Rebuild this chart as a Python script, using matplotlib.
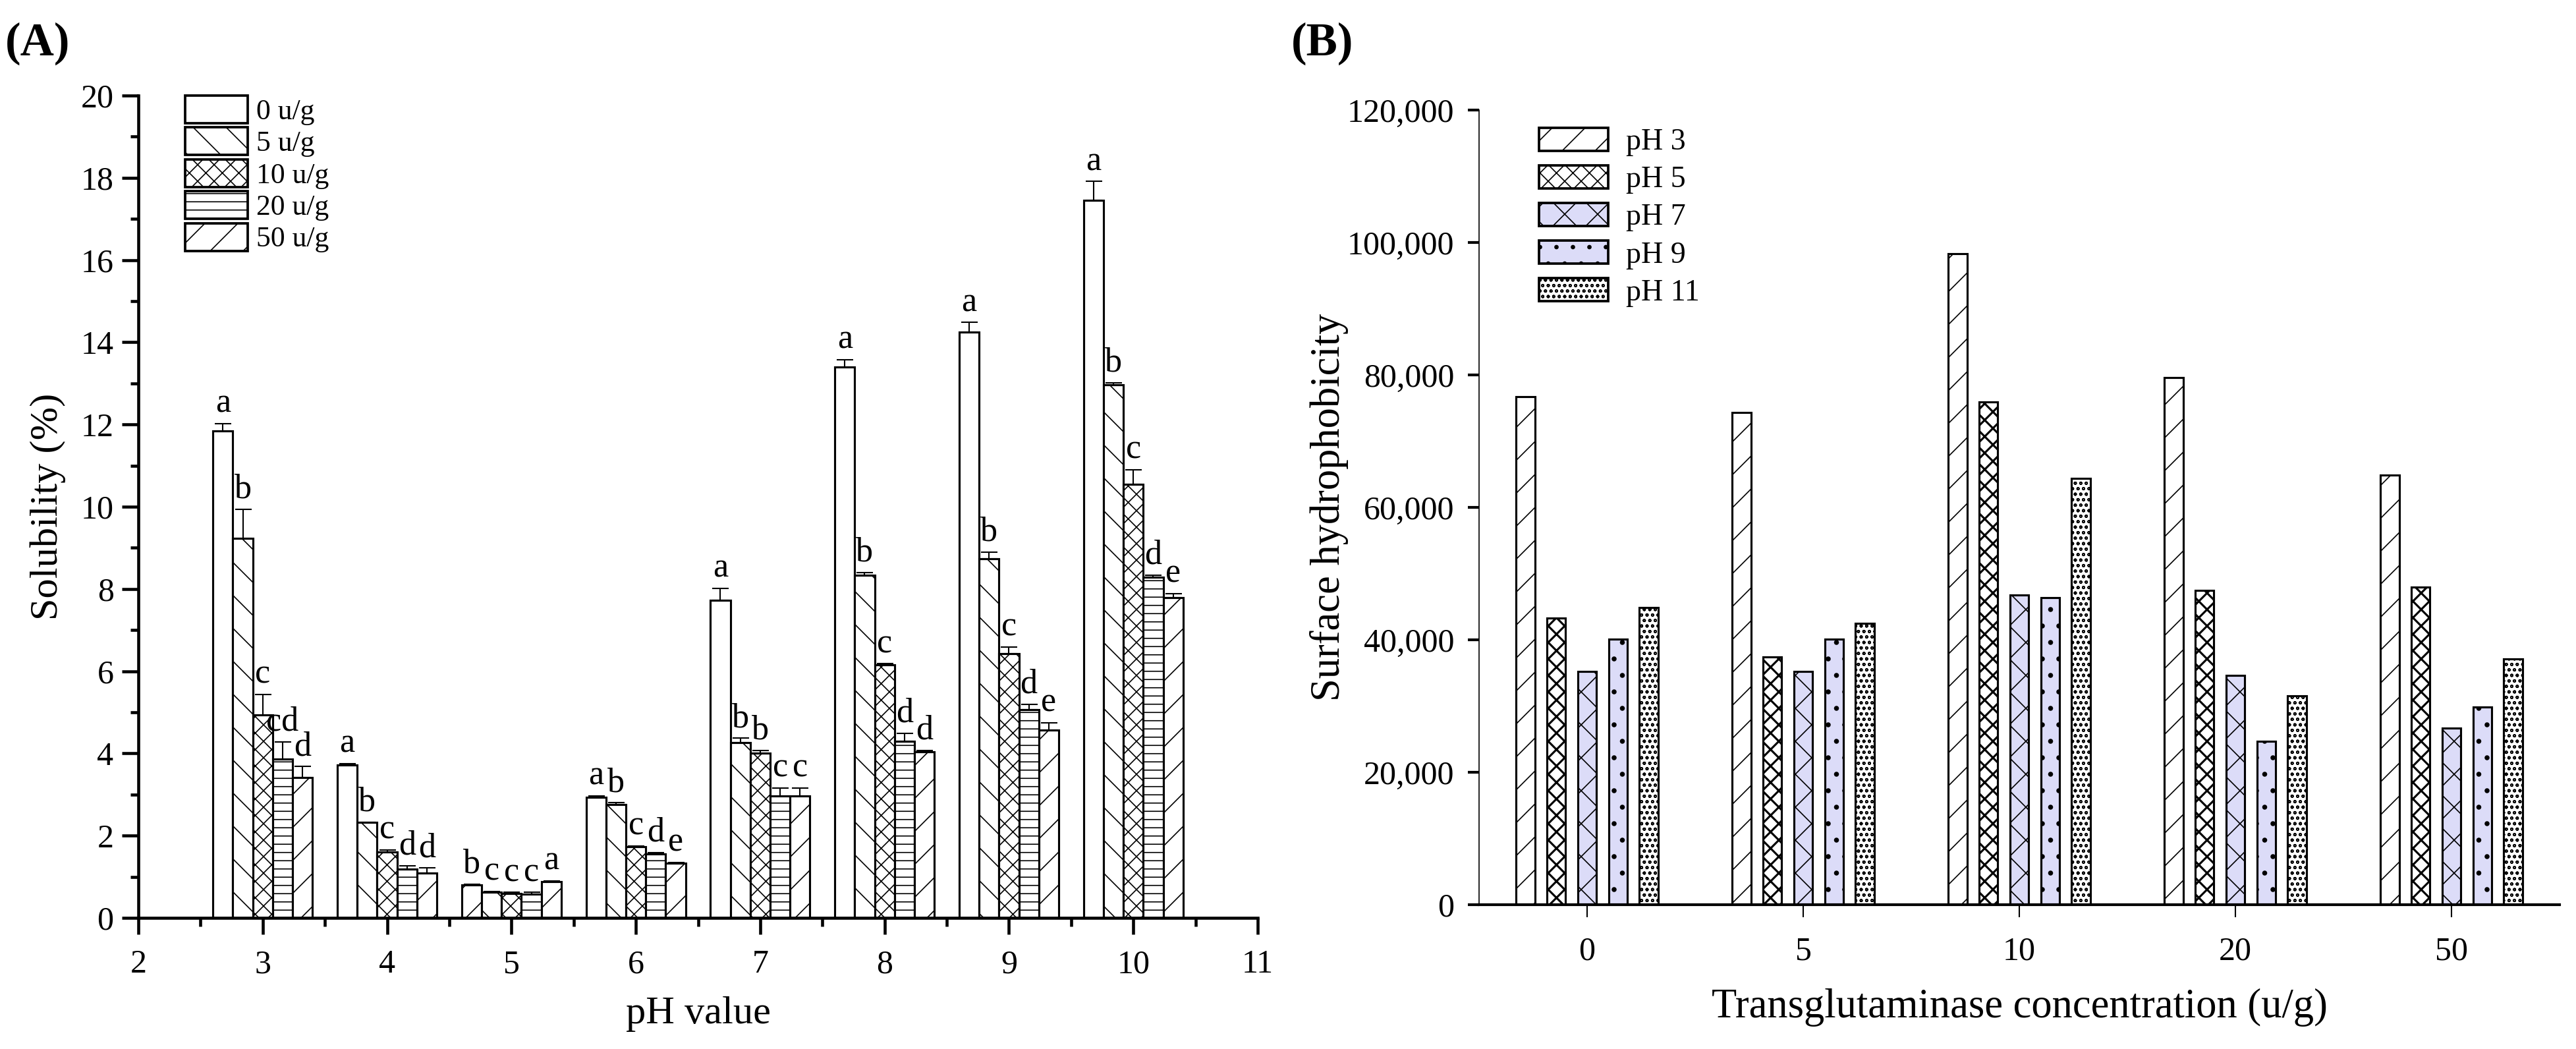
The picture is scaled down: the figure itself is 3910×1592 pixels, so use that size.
import numpy as np
import matplotlib
matplotlib.use("Agg")
import matplotlib.pyplot as plt
import matplotlib.patches as mpatches
from matplotlib.ticker import MultipleLocator, FuncFormatter

plt.rcParams["font.family"] = ["Liberation Serif", "DejaVu Serif"]
plt.rcParams["hatch.linewidth"] = 0.8

# ---- panel A: solubility vs pH ----
ph_values = [3, 4, 5, 6, 7, 8, 9, 10]
conc_labels = ["0 u/g", "5 u/g", "10 u/g", "20 u/g", "50 u/g"]

sol_0 = [11.84, 3.72, 0.80, 2.94, 7.72, 13.40, 14.24, 17.45]
sol_5 = [9.23, 2.33, 0.62, 2.76, 4.27, 8.34, 8.73, 12.97]
sol_10 = [4.93, 1.61, 0.60, 1.73, 4.00, 6.15, 6.42, 10.55]
sol_20 = [3.87, 1.19, 0.58, 1.56, 2.97, 4.30, 5.07, 8.28]
sol_50 = [3.42, 1.09, 0.88, 1.33, 2.97, 4.04, 4.56, 7.79]

err_0 = [0.18, 0.03, 0.02, 0.03, 0.29, 0.18, 0.24, 0.46]
err_5 = [0.71, 0.00, 0.02, 0.04, 0.10, 0.06, 0.17, 0.05]
err_10 = [0.50, 0.04, 0.02, 0.02, 0.07, 0.03, 0.17, 0.35]
err_20 = [0.41, 0.08, 0.04, 0.03, 0.19, 0.19, 0.13, 0.06]
err_50 = [0.26, 0.12, 0.02, 0.02, 0.19, 0.03, 0.19, 0.10]

letters_0 = ["a", "a", "b", "a", "a", "a", "a", "a"]
letters_5 = ["b", "b", "c", "b", "b", "b", "b", "b"]
letters_10 = ["c", "c", "c", "c", "b", "c", "c", "c"]
letters_20 = ["cd", "d", "c", "d", "c", "d", "d", "d"]
letters_50 = ["d", "d", "a", "e", "c", "d", "e", "e"]

# ---- panel B: surface hydrophobicity ----
tg_conc = ["0", "5", "10", "20", "50"]
ph_labels = ["pH 3", "pH 5", "pH 7", "pH 9", "pH 11"]
hyd_ph3 = [76680, 74310, 98340, 79600, 64900]
hyd_ph5 = [43240, 37390, 75970, 47510, 47980]
hyd_ph7 = [35180, 35180, 46720, 34620, 26640]
hyd_ph9 = [40080, 40080, 46400, 24660, 29880]
hyd_ph11 = [44900, 42450, 64350, 31540, 37070]

A_HATCH = [None, "\\", "xx", "--", "/"]
B_HATCH = ["/", "xx", "x", ".", "ooo"]
B_FILL = ["white", "white", "#DCDCF8", "#DCDCF8", "white"]
B_HLW = [0.8, 1.5, 0.8, 1.2, 0.8]

fig = plt.figure(figsize=(3910 / 150, 1592 / 150), dpi=150)
axA = fig.add_axes([210 / 3910, 1 - 1393 / 1592, 1699 / 3910, 1248 / 1592])
axB = fig.add_axes([2245 / 3910, 1 - 1373 / 1592, 1640 / 3910, 1206 / 1592])

# panel A bars
sols = [sol_0, sol_5, sol_10, sol_20, sol_50]
errs = [err_0, err_5, err_10, err_20, err_50]
letters = [letters_0, letters_5, letters_10, letters_20, letters_50]
x = np.array(ph_values, dtype=float)
w = 0.16
for i in range(5):
    xs = x + (i - 2) * w
    bars = axA.bar(xs, sols[i], width=w, color="white", edgecolor="black",
                   linewidth=1.5, hatch=A_HATCH[i], zorder=2,
                   yerr=[np.zeros(len(errs[i])), errs[i]],
                   error_kw=dict(elinewidth=1.0, capthick=1.0, capsize=6,
                                 ecolor="black", zorder=3))
    for j, b in enumerate(bars):
        if ph_values[j] == 5 and i == 0:
            # original figure shows this control bar hatched
            b.set_hatch("/")
        axA.text(xs[j], sols[i][j] + errs[i][j] + 0.1, letters[i][j],
                 ha="center", va="bottom", fontsize=25)

axA.set_xlim(2, 11)
axA.set_ylim(0, 20)
axA.xaxis.set_major_locator(MultipleLocator(1))
axA.xaxis.set_minor_locator(MultipleLocator(0.5))
axA.yaxis.set_major_locator(MultipleLocator(2))
axA.yaxis.set_minor_locator(MultipleLocator(1))
axA.spines[["top", "right"]].set_visible(False)
for s in ["left", "bottom"]:
    axA.spines[s].set_linewidth(2.2)
axA.tick_params(which="major", direction="out", length=12, width=2.2,
                labelsize=24, pad=6)
axA.tick_params(axis="x", which="major", pad=11)
axA.tick_params(which="minor", direction="out", length=6, width=2.2)
axA.set_ylabel("Solubility (%)", fontsize=29, va="center", ha="center",
               rotation_mode="default")
axA.yaxis.set_label_coords(-0.081, 0.5)
axA.set_xlabel("pH value", fontsize=29, va="center")
axA.xaxis.set_label_coords(0.5, -0.117)

handlesA = [mpatches.Patch(facecolor="white", edgecolor="black", linewidth=1.8,
                           hatch=A_HATCH[i], label=conc_labels[i]) for i in range(5)]
axA.legend(handles=handlesA, loc="upper left", bbox_to_anchor=(0.042, 1.0),
           frameon=False, fontsize=21, handlelength=2.17, handleheight=1.1,
           labelspacing=0.08, handletextpad=0.3, borderpad=0, borderaxespad=0)

# panel B bars
hyd = [hyd_ph3, hyd_ph5, hyd_ph7, hyd_ph9, hyd_ph11]
xb = np.arange(len(tg_conc))
wb = 0.086
step = 0.1426
for i in range(5):
    bars = axB.bar(xb + (i - 2) * step, hyd[i], width=wb, color=B_FILL[i],
                   edgecolor="black", linewidth=1.5, hatch=B_HATCH[i], zorder=2)
    for b in bars:
        if hasattr(b, "set_hatch_linewidth"):
            b.set_hatch_linewidth(B_HLW[i])

axB.set_xlim(-0.5, 4.5)
axB.set_ylim(0, 120000)
axB.set_xticks(xb)
axB.set_xticklabels(tg_conc)
axB.yaxis.set_major_locator(MultipleLocator(20000))
axB.yaxis.set_major_formatter(FuncFormatter(lambda v, p: f"{v:,.0f}"))
axB.spines[["top", "right"]].set_visible(False)
axB.spines["left"].set_linewidth(0.8)
axB.spines["bottom"].set_linewidth(2.0)
axB.tick_params(axis="y", direction="out", length=8, width=2.0, labelsize=24, pad=10)
axB.tick_params(axis="x", direction="out", length=9, width=1.0, labelsize=24, pad=14)
axB.set_ylabel("Surface hydrophobicity", fontsize=30, va="center", ha="center",
               rotation_mode="default")
axB.yaxis.set_label_coords(-0.139, 0.5)
axB.set_xlabel("Transglutaminase concentration (u/g)", fontsize=30, va="center")
axB.xaxis.set_label_coords(0.5, -0.129)

handlesB = []
for i in range(5):
    hp = mpatches.Patch(facecolor=B_FILL[i], edgecolor="black", linewidth=1.8,
                        hatch=B_HATCH[i], label=ph_labels[i])
    if hasattr(hp, "set_hatch_linewidth"):
        hp.set_hatch_linewidth(B_HLW[i])
    handlesB.append(hp)
axB.legend(handles=handlesB, loc="upper left", bbox_to_anchor=(0.0555, 0.978),
           frameon=False, fontsize=22, handlelength=2.3, handleheight=0.8,
           labelspacing=0.3, handletextpad=0.57, borderpad=0, borderaxespad=0)

fig.text(8 / 3910, 1 - 66 / 1592, "(A)", fontsize=34, fontweight="bold",
         ha="left", va="center")
fig.text(1960 / 3910, 1 - 66 / 1592, "(B)", fontsize=34, fontweight="bold",
         ha="left", va="center")

fig.savefig("out.png", dpi=150)
